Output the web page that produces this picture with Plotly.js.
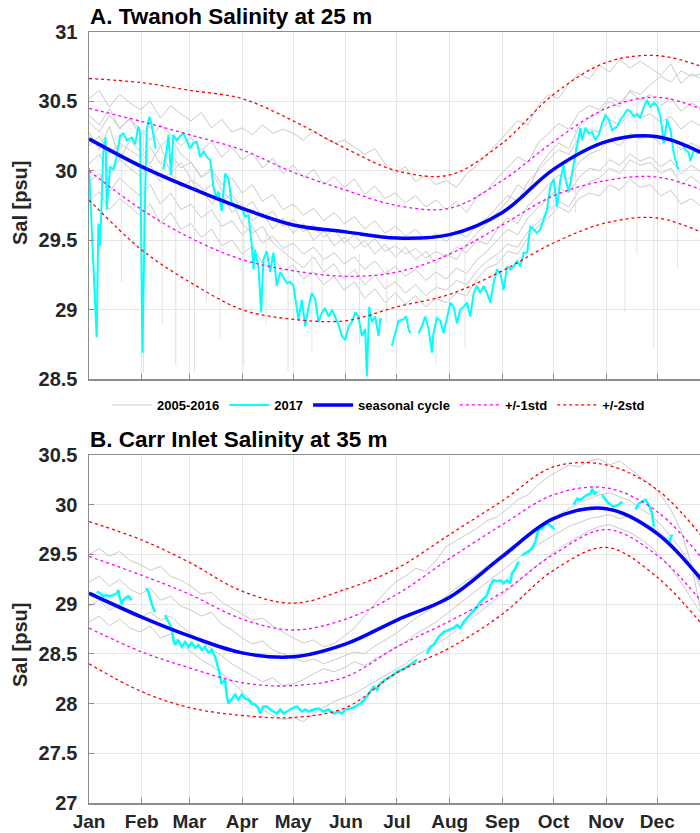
<!DOCTYPE html>
<html>
<head>
<meta charset="utf-8">
<script src="https://cdn.plot.ly/plotly-3.0.1.min.js"></script>
<style>
  html, body { margin: 0; padding: 0; overflow: hidden; background: #fff; width: 700px; height: 833px; }
  #chart { width: 710px; height: 833px; }
</style>
</head>
<body>
<div id="chart"></div>
<script>
// ---------- calendar ----------
const monthStartDays = [1, 32, 60, 91, 121, 152, 182, 213, 244, 274, 305, 335];
const monthNames = ['Jan', 'Feb', 'Mar', 'Apr', 'May', 'Jun', 'Jul', 'Aug', 'Sep', 'Oct', 'Nov', 'Dec'];
const climDays = [1, 32, 60, 91, 121, 152, 182, 213, 244, 274, 305, 335, 366];

// sampling days of the 2005-2016 daily records (every 6th day)
const histDays = [1, 7, 13, 19, 25, 31, 37, 43, 49, 55, 61, 67, 73, 79, 85, 91, 97, 103, 109, 115,
  121, 127, 133, 139, 145, 151, 157, 163, 169, 175, 181, 187, 193, 199, 205, 211, 217, 223, 229, 235,
  241, 247, 253, 259, 265, 271, 277, 283, 289, 295, 301, 307, 313, 319, 325, 331, 337, 343, 349, 355, 361];

// ---------- A. Twanoh, 25 m ----------
const seasonalA = [30.23, 30.03, 29.88, 29.73, 29.61, 29.56, 29.515, 29.54, 29.70, 30.01, 30.21, 30.245, 30.10];
const plus1A    = [30.45, 30.355, 30.26, 30.15, 29.99, 29.86, 29.75, 29.73, 29.93, 30.21, 30.45, 30.53, 30.42];
const minus1A   = [30.00, 29.72, 29.52, 29.36, 29.28, 29.24, 29.27, 29.40, 29.61, 29.82, 29.93, 29.955, 29.84];
const plus2A    = [30.665, 30.635, 30.58, 30.52, 30.36, 30.16, 30.00, 29.97, 30.20, 30.55, 30.78, 30.83, 30.73];
const minus2A   = [29.79, 29.43, 29.20, 29.00, 28.93, 28.92, 29.02, 29.11, 29.28, 29.48, 29.625, 29.66, 29.53];

const histA1 = [30.52, 30.58, 30.46, 30.55, 30.49, 30.44, 30.50, 30.38, 30.47, 30.41, 30.36, 30.42, 30.31, 30.37, 30.28,
  30.31, 30.26, 30.33, 30.27, 30.30, 30.27, 30.22, 30.29, 30.24, 30.20, 30.22, 30.17, 30.12, 30.16, 30.05,
  29.98, 30.03, 29.92, 29.97, 29.90, 29.93, 29.88, 29.98, 30.04, 30.12, 30.20, 30.28, 30.36, 30.33, 30.47,
  30.55, 30.52, 30.63, 30.70, 30.66, 30.76, 30.71, 30.80, 30.74, 30.79, 30.74, 30.69, 30.77, 30.63, 30.70, 30.66];
const histA2 = [30.35, 30.28, 30.40, 30.31, 30.37, 30.30, 30.22, 30.33, 30.26, 30.18, 30.24, 30.15, 30.21, 30.10, 30.17,
  30.08, 30.13, 30.02, 30.09, 29.98, 30.04, 29.95, 30.01, 29.90, 29.96, 29.88, 29.94, 29.83, 29.89, 29.80,
  29.84, 29.77, 29.82, 29.74, 29.79, 29.72, 29.78, 29.70, 29.81, 29.86, 29.95, 30.02, 30.10, 30.06, 30.20,
  30.27, 30.34, 30.30, 30.42, 30.47, 30.44, 30.53, 30.49, 30.57, 30.51, 30.55, 30.47, 30.52, 30.43, 30.49, 30.45];
const histA3 = [30.18, 30.25, 30.12, 30.20, 30.15, 30.10, 30.17, 30.05, 30.12, 30.02, 30.06, 29.96, 30.02, 29.90, 29.95,
  29.84, 29.90, 29.78, 29.83, 29.72, 29.76, 29.68, 29.73, 29.64, 29.70, 29.62, 29.67, 29.58, 29.64, 29.55,
  29.60, 29.53, 29.58, 29.50, 29.55, 29.49, 29.56, 29.52, 29.61, 29.66, 29.74, 29.82, 29.78, 29.92, 30.00,
  30.08, 30.15, 30.12, 30.24, 30.30, 30.28, 30.37, 30.33, 30.42, 30.38, 30.41, 30.35, 30.39, 30.30, 30.36, 30.32];
const histA4 = [30.05, 30.12, 29.98, 30.08, 30.02, 29.96, 30.04, 29.92, 29.99, 29.88, 29.93, 29.84, 29.90, 29.78, 29.83,
  29.72, 29.78, 29.66, 29.71, 29.60, 29.65, 29.56, 29.61, 29.52, 29.58, 29.48, 29.54, 29.45, 29.51, 29.42,
  29.46, 29.40, 29.44, 29.37, 29.42, 29.38, 29.45, 29.41, 29.50, 29.47, 29.58, 29.66, 29.62, 29.75, 29.82,
  29.90, 29.97, 29.94, 30.06, 30.12, 30.15, 30.22, 30.18, 30.27, 30.23, 30.26, 30.19, 30.24, 30.15, 30.20, 30.16];
const histA5 = [29.92, 29.98, 29.85, 29.95, 29.88, 29.82, 29.90, 29.76, 29.84, 29.72, 29.76, 29.66, 29.72, 29.60, 29.64,
  29.54, 29.60, 29.48, 29.53, 29.44, 29.48, 29.40, 29.45, 29.36, 29.41, 29.33, 29.38, 29.29, 29.35, 29.26,
  29.31, 29.24, 29.29, 29.21, 29.27, 29.22, 29.30, 29.26, 29.36, 29.42, 29.50, 29.58, 29.54, 29.66, 29.74,
  29.80, 29.88, 29.84, 29.95, 30.02, 30.00, 30.08, 30.04, 30.12, 30.07, 30.10, 30.03, 30.08, 29.98, 30.04, 29.99];
const histA6 = [30.40, 30.33, 30.45, 30.30, 30.38, 30.25, 30.32, 30.18, 30.24, 30.12, 30.06, 29.95, 30.00, 29.86, 29.78,
  29.62, 29.55, 29.60, 29.48, 29.42, 29.36, 29.30, 29.38, 29.27, 29.33, 29.22, 29.29, 29.18, 29.25, 29.15,
  29.20, 29.12, 29.18, 29.10, 29.16, 29.14, 29.21, 29.18, 29.28, 29.35, 29.40, 29.47, 29.45, 29.56, 29.63,
  29.70, 29.78, 29.74, 29.86, 29.92, 29.95, 30.02, 29.98, 30.08, 30.04, 30.06, 29.98, 30.02, 29.90, 29.96, 29.90];
const histA7 = [29.78, 29.85, 29.72, 29.80, 29.74, 29.68, 29.76, 29.62, 29.70, 29.58, 29.62, 29.52, 29.58, 29.46, 29.50,
  29.40, 29.46, 29.33, 29.38, 29.28, 29.32, 29.22, 29.27, 29.18, 29.24, 29.14, 29.20, 29.08, 29.15, 29.05,
  29.12, 29.04, 29.10, 29.02, 29.08, 29.05, 29.12, 29.10, 29.22, 29.30, 29.33, 29.42, 29.40, 29.52, 29.60,
  29.66, 29.74, 29.70, 29.80, 29.84, 29.82, 29.90, 29.86, 29.94, 29.88, 29.90, 29.82, 29.86, 29.76, 29.80, 29.74];
const histA8 = [30.28, 30.15, 30.32, 30.08, 30.22, 30.14, 30.05, 30.18, 29.98, 30.06, 29.94, 29.88, 29.76, 29.84, 29.70,
  29.76, 29.64, 29.70, 29.58, 29.66, 29.55, 29.62, 29.50, 29.57, 29.46, 29.52, 29.44, 29.50, 29.40, 29.47,
  29.38, 29.45, 29.36, 29.42, 29.33, 29.40, 29.36, 29.47, 29.55, 29.62, 29.70, 29.78, 29.90, 29.85, 30.02,
  30.12, 30.20, 30.16, 30.32, 30.38, 30.42, 30.50, 30.46, 30.58, 30.55, 30.62, 30.68, 30.64, 30.72, 30.68, 30.70];

// short low-salinity excursions in individual 2005-2016 records
const dipDaysA = [20, 33, 44, 52, 63, 70, 78, 92, 105, 118, 132, 138, 160, 176, 205, 222, 287, 316, 323, 333, 347];
const dipFromA = [30.20, 30.30, 30.10, 30.20, 30.00, 29.90, 29.90, 29.70, 29.60, 29.50, 29.40, 29.50, 29.40, 29.30,
  29.50, 29.50, 30.30, 30.40, 30.50, 30.40, 30.20];
const dipToA   = [29.20, 28.55, 28.90, 28.60, 28.55, 29.05, 28.80, 28.60, 28.90, 28.55, 28.70, 29.00, 28.75, 28.90,
  28.60, 28.72, 29.70, 28.98, 29.40, 28.72, 29.30];

// 2017 record (null = gap in the record)
const days2017A = [1, 5.5, 6.5, 7.5, 9.4, 10.8, 11.4, 13.4, 15.3, 17.3, 19.2, 21.2, 23.2, 26.1, 28.1, 30.0, 31.0, 32.4,
  34.0, 35.0, 36.5, 37.9, 40.2, 42,
  44.7, 46.7, 47.7, 49.2, 50.6, 52.6, 54.5, 56.5, 58.4, 60.4, 62.4, 64.3, 66.3, 68.3, 70.2, 72.2, 74.1, 75.7, 77.1,
  79.0, 81.0, 83.0, 84.9, 86.9, 88.8, 90.8, 92.8, 94.7, 96.7, 97.7, 98.6, 100.6, 102.2, 103.5, 105.5, 107.5, 109.4,
  111.4, 113.4, 115.3, 117.3, 119.2, 121.2, 124.1, 126.1, 128.1, 130.0, 132.0, 134.0, 135.9, 137.9, 139.8, 141.8,
  143.8, 145.7, 147.7, 149.6, 151.6, 153.6, 155.5, 157.5, 159.4, 161.4, 163.4, 164.3, 165.7, 167.3, 169.2, 171.2,
  172.2, 173.2, 176,
  179.0, 181.0, 183.0, 185.9, 187.5, 188.8, 189.8, 192,
  194.7, 196.7, 198.6, 200.6, 202.6, 203.5, 205.5, 207.5, 209.4, 211.4, 213.4, 215.3, 217.3, 219.2, 221.2, 223.2,
  225.1, 227.1, 229.0, 231.0, 233.0, 234.9, 236.9, 238.8, 240.8, 242.8, 244.7, 246.7, 248.6, 250.6, 252.6, 254.5,
  256.5, 258.5, 260.4, 262.4, 264.3, 266.3, 268.3, 270.2, 272.2, 274.1, 276.1, 278.1, 280.0, 281.0, 283.0, 283.9,
  285.9, 287.9, 289.8, 290.8, 292.8, 294.7, 296.7, 298.6, 300.6, 302.6, 304.5, 306.5, 308.5, 311.4, 313.4, 315.3,
  317.3, 319.2, 321.2, 323.2, 325.1, 327.1, 329.0, 331.0, 333.0, 334.9, 336.9, 338.8, 340.8, 342.8, 344.7, 346.7,
  347.7, 348.6,
  349.6, 351.6, 353.5, 354.5, 356.5, 358.5, 360.4, 362.5, 365];
const sal2017A = [30.02, 28.80, 29.62, 29.46, 30.13, 30.24, 29.72, 30.03, 30.01, 30.10, 30.25, 30.27, 30.22, 30.24, 30.19,
  30.32, 30.27, 28.69, 29.84, 30.30, 30.39, 30.33, 30.16, null,
  30.01, 30.15, 30.26, 29.97, 30.26, 30.22, 30.25, 30.27, 30.22, 30.16, 30.20, 30.21, 30.10, 30.14, 30.10, 30.08,
  29.89, 29.80, 29.85, 29.71, 29.98, 29.94, 29.77, 29.74, 29.73, 29.73, 29.67, 29.68, 29.46, 29.29, 29.43, 29.31,
  28.98, 29.36, 29.42, 29.27, 29.41, 29.17, 29.27, 29.23, 29.19, 29.20, 29.17, 28.93, 29.07, 28.88, 29.02, 29.12,
  29.07, 28.91, 28.98, 29.01, 28.95, 29.00, 28.95, 28.89, 28.81, 28.78, 28.88, 28.91, 28.98, 28.95, 28.81, 28.86,
  28.52, 29.02, 28.91, 28.95, 28.81, 28.93, 28.93, null,
  28.74, 28.83, 28.92, 28.93, 28.95, 28.86, 28.83, null,
  28.83, 28.88, 28.95, 28.86, 28.69, 28.83, 28.94, 28.92, 28.83, 28.93, 29.05, 29.02, 28.90, 29.00, 29.02, 29.05,
  28.95, 29.12, 29.17, 29.12, 29.17, 29.12, 29.05, 29.19, 29.29, 29.26, 29.14, 29.31, 29.29, 29.31, 29.35, 29.31,
  29.41, 29.41, 29.60, 29.58, 29.55, 29.58, 29.65, 29.72, 29.89, 29.94, 29.74, 29.94, 30.04, 29.94, 29.85, 29.91,
  30.05, 30.18, 30.31, 30.22, 30.31, 30.27, 30.28, 30.22, 30.26, 30.34, 30.40, 30.37, 30.29, 30.32, 30.37, 30.40,
  30.44, 30.43, 30.39, 30.41, 30.38, 30.46, 30.51, 30.46, 30.49, 30.47, 30.39, 30.20, 30.37, 30.29, 30.13, 30.03,
  30.01, null,
  30.20, 30.15, 30.13, 30.07, 30.15, 30.13, 30.15, 30.12, 30.18];

// ---------- B. Carr Inlet, 35 m ----------
const seasonalB = [29.11, 28.87, 28.68, 28.51, 28.47, 28.60, 28.84, 29.07, 29.48, 29.86, 29.96, 29.71, 29.14];
const plus1B    = [29.48, 29.29, 29.10, 28.85, 28.74, 28.85, 29.10, 29.46, 29.80, 30.10, 30.17, 29.93, 29.36];
const minus1B   = [28.76, 28.52, 28.36, 28.21, 28.18, 28.27, 28.57, 28.83, 29.12, 29.50, 29.75, 29.49, 28.92];
const plus2B    = [29.83, 29.645, 29.42, 29.13, 29.01, 29.15, 29.36, 29.70, 30.04, 30.38, 30.40, 30.15, 29.58];
const minus2B   = [28.40, 28.12, 27.96, 27.88, 27.86, 27.96, 28.31, 28.56, 28.90, 29.34, 29.57, 29.27, 28.70];

const histB1 = [29.50, 29.56, 29.48, 29.53, 29.44, 29.40, 29.34, 29.38, 29.28, 29.24, 29.18, 29.10, 29.12, 29.02, 28.96,
  28.90, 28.84, 28.86, 28.78, 28.72, 28.66, 28.61, 28.64, 28.57, 28.60, 28.68, 28.76, 28.88, 29.00, 29.12,
  29.22, 29.28, 29.36, 29.33, 29.44, 29.58, 29.64, 29.70, 29.76, 29.84, 29.88, 29.96, 30.05, 30.10, 30.20,
  30.28, 30.34, 30.40, 30.38, 30.44, 30.46, 30.40, 30.44, 30.36, 30.28, 30.20, 30.10, 29.95, 29.74, 29.40, 28.90];
const histB2 = [29.22, 29.28, 29.18, 29.25, 29.15, 29.10, 29.16, 29.04, 29.08, 28.98, 28.94, 28.88, 28.92, 28.80, 28.74,
  28.66, 28.60, 28.63, 28.54, 28.50, 28.46, 28.42, 28.45, 28.40, 28.44, 28.48, 28.52, 28.50, 28.58, 28.64,
  28.70, 28.78, 28.86, 28.92, 29.00, 29.08, 29.16, 29.24, 29.30, 29.38, 29.46, 29.55, 29.62, 29.70, 29.78,
  29.84, 29.90, 29.96, 30.02, 30.06, 30.10, 30.12, 30.08, 30.04, 29.96, 29.90, 29.80, 29.68, 29.55, 29.38, 29.15];
const histB3 = [28.98, 29.04, 28.94, 29.00, 28.90, 28.86, 28.92, 28.84, 28.88, 28.78, 28.70, 28.62, 28.55, 28.48, 28.40,
  28.34, 28.28, 28.22, 28.26, 28.18, 28.20, 28.24, 28.30, 28.35, 28.32, 28.36, 28.42, 28.38, 28.45, 28.50,
  28.56, 28.62, 28.70, 28.76, 28.82, 28.90, 28.98, 29.06, 29.14, 29.22, 29.30, 29.38, 29.46, 29.54, 29.60,
  29.66, 29.72, 29.78, 29.82, 29.86, 29.88, 29.90, 29.86, 29.90, 29.84, 29.78, 29.72, 29.62, 29.50, 29.36, 29.20];
const histB4 = [28.82, 28.88, 28.78, 28.85, 28.76, 28.72, 28.78, 28.66, 28.70, 28.60, 28.52, 28.44, 28.38, 28.30, 28.22,
  28.12, 28.02, 27.94, 27.88, 27.84, 27.86, 27.82, 27.90, 27.96, 28.02, 28.06, 28.10, 28.16, 28.22, 28.28,
  28.34, 28.40, 28.48, 28.54, 28.60, 28.66, 28.74, 28.82, 28.90, 28.98, 29.06, 29.14, 29.22, 29.32, 29.40,
  29.48, 29.56, 29.62, 29.68, 29.74, 29.78, 29.80, 29.76, 29.72, 29.66, 29.58, 29.48, 29.36, 29.22, 29.06, 28.90];

const days2017B = [5.5, 7.5, 9.4, 11.4, 13.4, 15.3, 17.3, 18.3, 19.2, 20.2, 21.2, 22.2, 24.1, 26.1, 30,
  34.5, 35.9, 36.9, 37.9, 39.8, 42,
  45.7, 47.7, 49.6, 50.6, 51.6, 53.5, 55.5, 57.5, 59.4, 61.4, 63.4, 65.3, 67.3, 69.2, 71.2, 73.2, 75.1, 77.1, 78.1,
  79.0, 81.0, 82.0, 83.0, 84.9, 86.9, 88.8, 90.8, 92.8, 94.7, 96.7, 98.6, 100.6, 101.6, 103.5, 105.5, 107.5, 109.4,
  111.4, 113.4, 115.3, 117.3, 120.2, 123.2, 126.1, 128.1, 130.0, 133.0, 135.9, 138.8, 141.8, 144.7, 147.7, 149.6,
  151.6, 154.5, 157.5, 160.4, 163.4, 166.3, 168.3, 170.2, 172.2, 175.1, 178.1, 180, 182, 185.9, 189.8, 193.7, 196,
  199.6, 201.6, 203.5, 206.5, 209.4, 212.4, 215.3, 217.3, 219.2, 221.2, 223.2, 225.1, 227.1, 229.0, 231.0, 233.0,
  234.9, 236.9, 238.8, 240.8, 242.8, 244.7, 246.7, 248.6, 249.6, 251.6, 253.5, 254.5,
  255.5, 257.5, 259.4, 261.4, 263.4, 264.3, 265.3, 267.3, 269.2, 271.2, 273.2, 274.5, 280,
  285.9, 287.9, 289.8, 291.8, 293.8, 295.7, 296.7, 298.1, 299.6, 301,
  302.6, 304.5, 307.5, 309.4, 312.4, 314.3, 318,
  322.2, 324.1, 328.1, 330.0, 332.0, 333.0, 337,
  341.8, 343.7];
const sal2017B = [29.125, 29.11, 29.08, 29.09, 29.08, 29.09, 29.11, 29.14, 29.06, 29.00, 29.04, 29.06, 29.08, 29.04, null,
  29.16, 29.13, 29.06, 29.00, 28.92, null,
  28.89, 28.82, 28.76, 28.64, 28.59, 28.64, 28.57, 28.62, 28.57, 28.61, 28.56, 28.59, 28.54, 28.57, 28.51, 28.54,
  28.47, 28.35, 28.27, 28.20, 28.24, 28.07, 28.00, 28.05, 28.09, 28.04, 28.09, 28.05, 28.04, 28.00, 27.99, 27.95,
  27.90, 27.97, 27.97, 27.94, 27.92, 27.90, 27.94, 27.90, 27.92, 27.95, 27.97, 27.92, 27.94, 27.92, 27.94, 27.95,
  27.92, 27.94, 27.90, 27.92, 27.90, 27.94, 27.95, 27.97, 28.00, 28.05, 28.12, 28.17, 28.14, 28.20, 28.24, 28.27,
  28.29, 28.32, 28.35, 28.39, 28.44, null,
  28.50, 28.57, 28.59, 28.67, 28.72, 28.74, 28.76, 28.79, 28.76, 28.82, 28.86, 28.89, 28.94, 28.97, 29.02, 29.06,
  29.09, 29.19, 29.24, 29.23, 29.24, 29.21, 29.24, 29.21, 29.31, 29.36, 29.43, null,
  29.49, 29.51, 29.53, 29.56, 29.63, 29.70, 29.75, 29.76, 29.81, 29.80, 29.78, 29.75, null,
  30.00, 30.06, 30.05, 30.08, 30.10, 30.11, 30.16, 30.11, 30.13, null,
  30.10, 30.05, 30.00, 29.98, 30.00, 30.03, null,
  29.95, 30.01, 30.05, 30.00, 29.91, 29.78, null,
  29.61, 29.70];

// ---------- styles ----------
const FONT = 'Liberation Sans, Arial, Helvetica, sans-serif';
const GRAY = '#c9c9c9';
const CYAN = '#00ffff';
const BLUE = '#0000ff';
const MAGENTA = '#ff00ff';
const RED = '#ff0000';

function line(x, y, xa, ya, color, width, dash, name, legend, rank, shape) {
  return {
    type: 'scatter', mode: 'lines', x: x, y: y, xaxis: xa, yaxis: ya,
    line: { color: color, width: width, dash: dash || 'solid', shape: shape || 'linear', smoothing: 1 },
    name: name, legendgroup: name, showlegend: !!legend, legendrank: rank,
    hoverinfo: 'skip', connectgaps: false
  };
}

function dipTrace(days, from, to, xa, ya) {
  const x = [], y = [];
  days.forEach((d, i) => { x.push(d, d, null); y.push(from[i], to[i], null); });
  return line(x, y, xa, ya, '#e2e2e2', 1, 'solid', '2005-2016', false, 1);
}

const traces = [];
// panel A
[histA1, histA2, histA3, histA4, histA5, histA6, histA7, histA8].forEach((s, i) =>
  traces.push(line(histDays, s, 'x', 'y', GRAY, 1, 'solid', '2005-2016', i === 0, 1)));
traces.push(dipTrace(dipDaysA, dipFromA, dipToA, 'x', 'y'));
traces.push(line(days2017A, sal2017A, 'x', 'y', CYAN, 2, 'solid', '2017', true, 2));
traces.push(line(climDays, plus1A, 'x', 'y', MAGENTA, 1.3, 'dot', '+/-1std', true, 4, 'spline'));
traces.push(line(climDays, minus1A, 'x', 'y', MAGENTA, 1.3, 'dot', '+/-1std', false, 4, 'spline'));
traces.push(line(climDays, plus2A, 'x', 'y', RED, 1.3, 'dot', '+/-2std', true, 5, 'spline'));
traces.push(line(climDays, minus2A, 'x', 'y', RED, 1.3, 'dot', '+/-2std', false, 5, 'spline'));
traces.push(line(climDays, seasonalA, 'x', 'y', BLUE, 3.5, 'solid', 'seasonal cycle', true, 3, 'spline'));
// panel B
[histB1, histB2, histB3, histB4].forEach(s =>
  traces.push(line(histDays, s, 'x2', 'y2', GRAY, 1, 'solid', '2005-2016', false, 1)));
traces.push(line(days2017B, sal2017B, 'x2', 'y2', CYAN, 2.5, 'solid', '2017', false, 2));
traces.push(line(climDays, plus1B, 'x2', 'y2', MAGENTA, 1.3, 'dot', '+/-1std', false, 4, 'spline'));
traces.push(line(climDays, minus1B, 'x2', 'y2', MAGENTA, 1.3, 'dot', '+/-1std', false, 4, 'spline'));
traces.push(line(climDays, plus2B, 'x2', 'y2', RED, 1.3, 'dot', '+/-2std', false, 5, 'spline'));
traces.push(line(climDays, minus2B, 'x2', 'y2', RED, 1.3, 'dot', '+/-2std', false, 5, 'spline'));
traces.push(line(climDays, seasonalB, 'x2', 'y2', BLUE, 3.5, 'solid', 'seasonal cycle', false, 3, 'spline'));

// ---------- axes ----------
const AXIS = '#8c8c8c';
function xAxis(anchor, labels) {
  return {
    anchor: anchor, domain: [0, 1], range: [1, 366],
    tickmode: 'array', tickvals: monthStartDays, ticktext: monthNames, showticklabels: labels,
    ticks: 'inside', ticklen: 5, tickcolor: AXIS, tickwidth: 1,
    showgrid: true, gridcolor: '#e6e6e6', gridwidth: 1,
    showline: true, linecolor: AXIS, linewidth: 1.5, mirror: true, zeroline: false,
    tickfont: { family: FONT, size: 19, color: '#262626', weight: 'bold' }, ticklabelstandoff: 1
  };
}
function yAxis(anchor, domain, range) {
  return {
    anchor: anchor, domain: domain, range: range, tickmode: 'linear', tick0: range[0], dtick: 0.5,
    ticks: 'inside', ticklen: 5, tickcolor: AXIS, tickwidth: 1,
    showgrid: true, gridcolor: '#e6e6e6', gridwidth: 1,
    showline: true, linecolor: AXIS, linewidth: 1.5, mirror: true, zeroline: false,
    tickfont: { family: FONT, size: 20, color: '#262626', weight: 'bold' }, ticklabelstandoff: 6
  };
}

const W = 621, TOP = 32, BOT = 30, H = 833 - TOP - BOT;
const py = p => (833 - BOT - p) / H;     // page pixel row -> paper y
const px = p => (p - 89) / W;           // page pixel column -> paper x

const layout = {
  width: 710, height: 833,
  margin: { l: 89, r: 0, t: TOP, b: BOT },
  paper_bgcolor: '#ffffff', plot_bgcolor: '#ffffff',
  font: { family: FONT, color: '#000' },
  showlegend: true,
  legend: {
    orientation: 'h', x: px(107), xanchor: 'left', y: py(405), yanchor: 'middle',
    font: { family: FONT, size: 13, color: '#000', weight: 'bold' },
    bgcolor: 'rgba(0,0,0,0)', itemwidth: 40, traceorder: 'normal', tracegroupgap: 0
  },
  xaxis: xAxis('y', false),
  yaxis: yAxis('x', [py(379), 1], [28.5, 31]),
  xaxis2: xAxis('y2', true),
  yaxis2: yAxis('x2', [0, py(455)], [27, 30.5]),
  annotations: [
    { text: 'A. Twanoh Salinity at 25 m', xref: 'paper', yref: 'paper', x: px(88), y: py(16),
      xanchor: 'left', yanchor: 'middle', showarrow: false,
      font: { family: FONT, size: 22.5, color: '#000', weight: 'bold' } },
    { text: 'B. Carr Inlet Salinity at 35 m', xref: 'paper', yref: 'paper', x: px(88), y: py(439),
      xanchor: 'left', yanchor: 'middle', showarrow: false,
      font: { family: FONT, size: 22.5, color: '#000', weight: 'bold' } },
    { text: 'Sal [psu]', xref: 'paper', yref: 'paper', x: px(20), y: py(203), textangle: -90,
      xanchor: 'center', yanchor: 'middle', showarrow: false,
      font: { family: FONT, size: 20, color: '#262626', weight: 'bold' } },
    { text: 'Sal [psu]', xref: 'paper', yref: 'paper', x: px(20), y: py(645), textangle: -90,
      xanchor: 'center', yanchor: 'middle', showarrow: false,
      font: { family: FONT, size: 20, color: '#262626', weight: 'bold' } }
  ]
};

Plotly.newPlot('chart', traces, layout, { displayModeBar: false, staticPlot: true });
</script>
</body>
</html>
